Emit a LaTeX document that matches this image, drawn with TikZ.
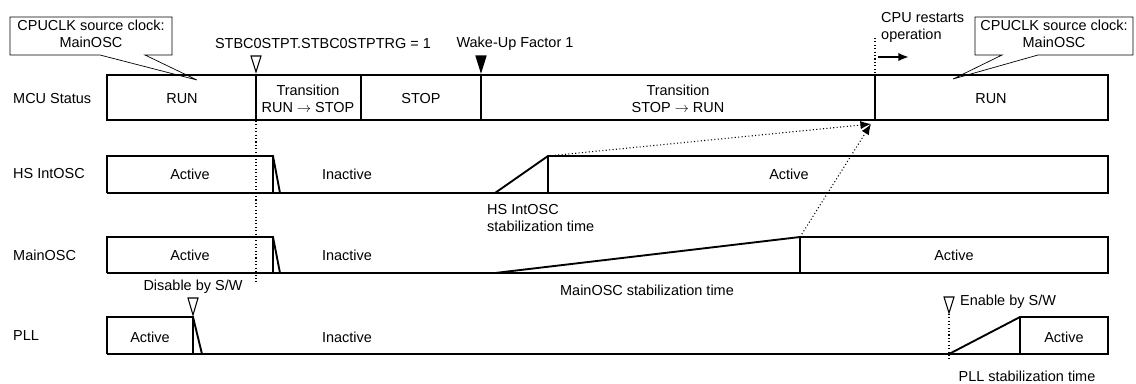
\documentclass[tikz,border=0pt]{standalone}
\usepackage{fontspec}
\setmainfont{Liberation Sans}
\usetikzlibrary{arrows.meta, positioning, calc}

\begin{document}
\begin{tikzpicture}[
    x=0.85pt, y=-0.85pt,
    every node/.style={font=\fontsize{12.3}{14.5}\selectfont, inner sep=0pt, align=center},
    wave/.style={line width=1.6pt},
    callout/.style={line width=0.6pt},
    trig/.style={line width=0.9pt},
    guide/.style={dotted, line width=0.9pt},
    arrow/.style={-{Latex[length=9pt, width=7pt]}}
]
    \useasboundingbox (0,0) rectangle (1136,383);

    % Row labels
    \node[anchor=west] (mcu) at (13,99) {MCU Status};
    \node[anchor=west] (hsosc) at (13,174) {HS IntOSC};
    \node[anchor=west] (mosc) at (13,255) {MainOSC};
    \node[anchor=west] (pll) at (13,336) {PLL};

    % Callouts
    \draw[callout] (100,55) -- (10,55) -- (10,17) -- (172,17) -- (172,55) -- (145,55) -- (197,80) -- cycle;
    \node (clk1) at (91,34) {CPUCLK source clock:\\MainOSC};
    \draw[callout] (1002,55) -- (975,55) -- (975,17) -- (1133,17) -- (1133,55) -- (1038,55) -- (953,79) -- cycle;
    \node (clk2) at (1054,34) {CPUCLK source clock:\\MainOSC};

    % MCU status
    \draw[wave] (107,75) rectangle (1108,120);
    \foreach \x in {256,361,481,875}
        \draw[wave] (\x,75) -- (\x,120);
    \node (run1) at (182,99) {RUN};
    \node (rs) at (308,99) {Transition\\RUN $\rightarrow$ STOP};
    \node (stop) at (421,99) {STOP};
    \node (sr) at (678,99) {Transition\\STOP $\rightarrow$ RUN};
    \node (run2) at (991,99) {RUN};

    % Events
    \draw[trig] (251,56) -- (261,56) -- (256,72) -- cycle;
    \node (stbc) at (323,44) {STBC0STPT.STBC0STPTRG = 1};
    \draw[guide] (256,121) -- (256,284);
    \draw[trig, fill=black] (476,56) -- (486,56) -- (481,72) -- cycle;
    \node (wake) at (515,44) {Wake-Up Factor 1};
    \node[anchor=west, align=left] (cpu) at (881,27) {CPU restarts\\operation};
    \draw[guide] (875,38) -- (875,74);
    \coordinate (cpuA) at (878,57);
    \coordinate (cpuB) at (909,57);
    \draw[wave, arrow] (cpuA) -- (cpuB);

    % HS IntOSC
    \draw[wave] (107,193) -- (107,156) -- (273,156) -- (273,193);
    \draw[wave] (273,156) -- (280,193);
    \draw[wave] (107,193) -- (1108,193) -- (1108,156) -- (548,156) -- (495,193);
    \draw[wave] (548,156) -- (548,193);
    \node (hsa1) at (190,174) {Active};
    \node (hsi) at (347,174) {Inactive};
    \node (hsa2) at (789,174) {Active};
    \node[anchor=west, align=left] (hsst) at (487,218) {HS IntOSC\\stabilization time};

    % MainOSC
    \draw[wave] (107,273) -- (107,237) -- (273,237) -- (273,273);
    \draw[wave] (273,237) -- (280,273);
    \draw[wave] (107,273) -- (1108,273) -- (1108,237) -- (800,237) -- (495,273);
    \draw[wave] (800,237) -- (800,273);
    \node (ma1) at (190,255) {Active};
    \node (mi) at (347,255) {Inactive};
    \node (ma2) at (954,255) {Active};
    \node (mst) at (647,290) {MainOSC stabilization time};

    % PLL
    \draw[wave] (107,354) -- (107,317) -- (193,317) -- (193,354);
    \draw[wave] (193,317) -- (202,354);
    \draw[wave] (107,354) -- (1108,354) -- (1108,317) -- (1020,317) -- (949,354);
    \draw[wave] (1020,317) -- (1020,354);
    \node (pa1) at (150,337) {Active};
    \node (pi) at (347,337) {Inactive};
    \node (pa2) at (1064,337) {Active};
    \draw[trig] (188,298) -- (198,298) -- (193,315) -- cycle;
    \node (dis) at (193,287) {Disable by S/W};
    \draw[trig] (944,297) -- (954,297) -- (949,313) -- cycle;
    \node[anchor=west] (en) at (960,302) {Enable by S/W};
    \draw[guide] (949,314) -- (949,361);
    \node (pst) at (1027,376) {PLL stabilization time};

    % Stabilization -> RUN
    \coordinate (hsup) at (548,156);
    \coordinate (mup) at (800,237);
    \coordinate (runst) at (871,124);
    \draw[guide, arrow] (hsup) -- (runst);
    \draw[guide, arrow] (mup) -- (runst);
\end{tikzpicture}
\end{document}
